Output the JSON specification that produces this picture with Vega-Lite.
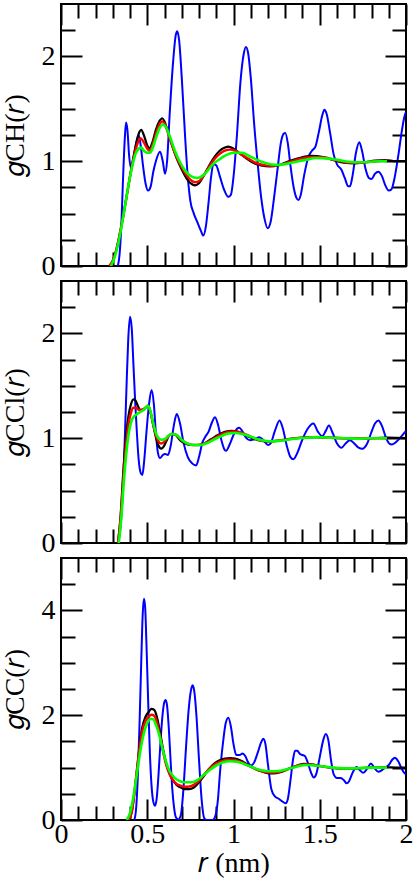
{
"$schema": "https://vega.github.io/schema/vega-lite/v6.json",
"background": "white",
"padding": {"left": 0, "top": 2, "right": 0, "bottom": 0},
"spacing": -5,
"datasets": {
"d": [
{"p":"CH","s":"m4","r":0.33,"g":0},{"p":"CH","s":"m4","r":0.34,"g":0.12},{"p":"CH","s":"m4","r":0.35,"g":0.4},{"p":"CH","s":"m4","r":0.36,"g":0.85},{"p":"CH","s":"m4","r":0.37,"g":1.22},{"p":"CH","s":"m4","r":0.377,"g":1.37},{"p":"CH","s":"m4","r":0.385,"g":1.3},{"p":"CH","s":"m4","r":0.395,"g":1.05},{"p":"CH","s":"m4","r":0.404,"g":0.94},{"p":"CH","s":"m4","r":0.415,"g":0.98},{"p":"CH","s":"m4","r":0.43,"g":1.12},{"p":"CH","s":"m4","r":0.45,"g":1.25},{"p":"CH","s":"m4","r":0.462,"g":1.15},{"p":"CH","s":"m4","r":0.476,"g":0.95},{"p":"CH","s":"m4","r":0.49,"g":0.79},{"p":"CH","s":"m4","r":0.505,"g":0.72},{"p":"CH","s":"m4","r":0.52,"g":0.76},{"p":"CH","s":"m4","r":0.535,"g":0.9},{"p":"CH","s":"m4","r":0.55,"g":1.0},{"p":"CH","s":"m4","r":0.574,"g":1.09},{"p":"CH","s":"m4","r":0.59,"g":1.0},{"p":"CH","s":"m4","r":0.603,"g":0.88},{"p":"CH","s":"m4","r":0.615,"g":1.0},{"p":"CH","s":"m4","r":0.63,"g":1.45},{"p":"CH","s":"m4","r":0.65,"g":1.95},{"p":"CH","s":"m4","r":0.665,"g":2.2},{"p":"CH","s":"m4","r":0.674,"g":2.24},{"p":"CH","s":"m4","r":0.685,"g":2.15},{"p":"CH","s":"m4","r":0.7,"g":1.8},{"p":"CH","s":"m4","r":0.72,"g":1.22},{"p":"CH","s":"m4","r":0.735,"g":0.85},{"p":"CH","s":"m4","r":0.75,"g":0.62},{"p":"CH","s":"m4","r":0.77,"g":0.5},{"p":"CH","s":"m4","r":0.79,"g":0.42},{"p":"CH","s":"m4","r":0.81,"g":0.34},{"p":"CH","s":"m4","r":0.825,"g":0.29},{"p":"CH","s":"m4","r":0.84,"g":0.38},{"p":"CH","s":"m4","r":0.855,"g":0.6},{"p":"CH","s":"m4","r":0.87,"g":0.85},{"p":"CH","s":"m4","r":0.883,"g":0.97},{"p":"CH","s":"m4","r":0.9,"g":0.96},{"p":"CH","s":"m4","r":0.92,"g":0.86},{"p":"CH","s":"m4","r":0.945,"g":0.73},{"p":"CH","s":"m4","r":0.97,"g":0.66},{"p":"CH","s":"m4","r":0.985,"g":0.68},{"p":"CH","s":"m4","r":1.0,"g":0.85},{"p":"CH","s":"m4","r":1.02,"g":1.25},{"p":"CH","s":"m4","r":1.04,"g":1.75},{"p":"CH","s":"m4","r":1.06,"g":2.03},{"p":"CH","s":"m4","r":1.072,"g":2.09},{"p":"CH","s":"m4","r":1.085,"g":2.03},{"p":"CH","s":"m4","r":1.1,"g":1.8},{"p":"CH","s":"m4","r":1.12,"g":1.35},{"p":"CH","s":"m4","r":1.14,"g":0.98},{"p":"CH","s":"m4","r":1.16,"g":0.66},{"p":"CH","s":"m4","r":1.18,"g":0.45},{"p":"CH","s":"m4","r":1.198,"g":0.36},{"p":"CH","s":"m4","r":1.215,"g":0.42},{"p":"CH","s":"m4","r":1.235,"g":0.65},{"p":"CH","s":"m4","r":1.255,"g":0.92},{"p":"CH","s":"m4","r":1.275,"g":1.18},{"p":"CH","s":"m4","r":1.29,"g":1.26},{"p":"CH","s":"m4","r":1.3,"g":1.27},{"p":"CH","s":"m4","r":1.315,"g":1.17},{"p":"CH","s":"m4","r":1.33,"g":0.96},{"p":"CH","s":"m4","r":1.35,"g":0.74},{"p":"CH","s":"m4","r":1.365,"g":0.65},{"p":"CH","s":"m4","r":1.376,"g":0.63},{"p":"CH","s":"m4","r":1.39,"g":0.68},{"p":"CH","s":"m4","r":1.41,"g":0.87},{"p":"CH","s":"m4","r":1.434,"g":1.04},{"p":"CH","s":"m4","r":1.455,"g":1.1},{"p":"CH","s":"m4","r":1.475,"g":1.14},{"p":"CH","s":"m4","r":1.495,"g":1.28},{"p":"CH","s":"m4","r":1.515,"g":1.44},{"p":"CH","s":"m4","r":1.527,"g":1.49},{"p":"CH","s":"m4","r":1.54,"g":1.45},{"p":"CH","s":"m4","r":1.56,"g":1.27},{"p":"CH","s":"m4","r":1.58,"g":1.07},{"p":"CH","s":"m4","r":1.6,"g":0.97},{"p":"CH","s":"m4","r":1.625,"g":0.92},{"p":"CH","s":"m4","r":1.645,"g":0.84},{"p":"CH","s":"m4","r":1.665,"g":0.76},{"p":"CH","s":"m4","r":1.675,"g":0.76},{"p":"CH","s":"m4","r":1.69,"g":0.86},{"p":"CH","s":"m4","r":1.71,"g":1.08},{"p":"CH","s":"m4","r":1.729,"g":1.18},{"p":"CH","s":"m4","r":1.745,"g":1.1},{"p":"CH","s":"m4","r":1.765,"g":0.93},{"p":"CH","s":"m4","r":1.785,"g":0.84},{"p":"CH","s":"m4","r":1.8,"g":0.83},{"p":"CH","s":"m4","r":1.82,"g":0.88},{"p":"CH","s":"m4","r":1.84,"g":0.9},{"p":"CH","s":"m4","r":1.86,"g":0.86},{"p":"CH","s":"m4","r":1.88,"g":0.77},{"p":"CH","s":"m4","r":1.9,"g":0.72},{"p":"CH","s":"m4","r":1.915,"g":0.73},{"p":"CH","s":"m4","r":1.935,"g":0.85},{"p":"CH","s":"m4","r":1.955,"g":1.05},{"p":"CH","s":"m4","r":1.975,"g":1.28},{"p":"CH","s":"m4","r":1.99,"g":1.42},{"p":"CH","s":"m4","r":2.0,"g":1.47},
{"p":"CH","s":"m1","r":0.28,"g":0},{"p":"CH","s":"m1","r":0.3,"g":0.05},{"p":"CH","s":"m1","r":0.32,"g":0.15},{"p":"CH","s":"m1","r":0.34,"g":0.3},{"p":"CH","s":"m1","r":0.36,"g":0.47},{"p":"CH","s":"m1","r":0.38,"g":0.66},{"p":"CH","s":"m1","r":0.4,"g":0.86},{"p":"CH","s":"m1","r":0.42,"g":1.04},{"p":"CH","s":"m1","r":0.44,"g":1.2},{"p":"CH","s":"m1","r":0.455,"g":1.28},{"p":"CH","s":"m1","r":0.465,"g":1.3},{"p":"CH","s":"m1","r":0.48,"g":1.25},{"p":"CH","s":"m1","r":0.5,"g":1.15},{"p":"CH","s":"m1","r":0.512,"g":1.12},{"p":"CH","s":"m1","r":0.53,"g":1.18},{"p":"CH","s":"m1","r":0.55,"g":1.3},{"p":"CH","s":"m1","r":0.57,"g":1.38},{"p":"CH","s":"m1","r":0.587,"g":1.41},{"p":"CH","s":"m1","r":0.6,"g":1.38},{"p":"CH","s":"m1","r":0.62,"g":1.28},{"p":"CH","s":"m1","r":0.64,"g":1.17},{"p":"CH","s":"m1","r":0.67,"g":1.03},{"p":"CH","s":"m1","r":0.7,"g":0.92},{"p":"CH","s":"m1","r":0.73,"g":0.83},{"p":"CH","s":"m1","r":0.76,"g":0.78},{"p":"CH","s":"m1","r":0.777,"g":0.77},{"p":"CH","s":"m1","r":0.8,"g":0.79},{"p":"CH","s":"m1","r":0.83,"g":0.87},{"p":"CH","s":"m1","r":0.86,"g":0.96},{"p":"CH","s":"m1","r":0.89,"g":1.04},{"p":"CH","s":"m1","r":0.92,"g":1.1},{"p":"CH","s":"m1","r":0.95,"g":1.13},{"p":"CH","s":"m1","r":0.97,"g":1.14},{"p":"CH","s":"m1","r":1.0,"g":1.12},{"p":"CH","s":"m1","r":1.04,"g":1.07},{"p":"CH","s":"m1","r":1.08,"g":1.02},{"p":"CH","s":"m1","r":1.12,"g":0.98},{"p":"CH","s":"m1","r":1.16,"g":0.96},{"p":"CH","s":"m1","r":1.21,"g":0.95},{"p":"CH","s":"m1","r":1.26,"g":0.96},{"p":"CH","s":"m1","r":1.32,"g":1.0},{"p":"CH","s":"m1","r":1.38,"g":1.03},{"p":"CH","s":"m1","r":1.45,"g":1.05},{"p":"CH","s":"m1","r":1.52,"g":1.04},{"p":"CH","s":"m1","r":1.58,"g":1.01},{"p":"CH","s":"m1","r":1.64,"g":0.985},{"p":"CH","s":"m1","r":1.7,"g":0.98},{"p":"CH","s":"m1","r":1.76,"g":0.99},{"p":"CH","s":"m1","r":1.82,"g":1.005},{"p":"CH","s":"m1","r":1.88,"g":1.01},{"p":"CH","s":"m1","r":1.94,"g":1.0},{"p":"CH","s":"m1","r":2.0,"g":1.0},
{"p":"CH","s":"m2","r":0.28,"g":0},{"p":"CH","s":"m2","r":0.3,"g":0.05},{"p":"CH","s":"m2","r":0.32,"g":0.15},{"p":"CH","s":"m2","r":0.34,"g":0.3},{"p":"CH","s":"m2","r":0.36,"g":0.47},{"p":"CH","s":"m2","r":0.38,"g":0.66},{"p":"CH","s":"m2","r":0.4,"g":0.85},{"p":"CH","s":"m2","r":0.42,"g":1.02},{"p":"CH","s":"m2","r":0.44,"g":1.15},{"p":"CH","s":"m2","r":0.46,"g":1.22},{"p":"CH","s":"m2","r":0.48,"g":1.18},{"p":"CH","s":"m2","r":0.5,"g":1.12},{"p":"CH","s":"m2","r":0.515,"g":1.1},{"p":"CH","s":"m2","r":0.53,"g":1.15},{"p":"CH","s":"m2","r":0.55,"g":1.26},{"p":"CH","s":"m2","r":0.57,"g":1.35},{"p":"CH","s":"m2","r":0.587,"g":1.38},{"p":"CH","s":"m2","r":0.6,"g":1.36},{"p":"CH","s":"m2","r":0.62,"g":1.27},{"p":"CH","s":"m2","r":0.64,"g":1.17},{"p":"CH","s":"m2","r":0.67,"g":1.04},{"p":"CH","s":"m2","r":0.7,"g":0.94},{"p":"CH","s":"m2","r":0.73,"g":0.86},{"p":"CH","s":"m2","r":0.76,"g":0.81},{"p":"CH","s":"m2","r":0.78,"g":0.8},{"p":"CH","s":"m2","r":0.8,"g":0.81},{"p":"CH","s":"m2","r":0.83,"g":0.87},{"p":"CH","s":"m2","r":0.86,"g":0.95},{"p":"CH","s":"m2","r":0.89,"g":1.02},{"p":"CH","s":"m2","r":0.92,"g":1.07},{"p":"CH","s":"m2","r":0.95,"g":1.1},{"p":"CH","s":"m2","r":0.98,"g":1.11},{"p":"CH","s":"m2","r":1.01,"g":1.1},{"p":"CH","s":"m2","r":1.05,"g":1.06},{"p":"CH","s":"m2","r":1.09,"g":1.02},{"p":"CH","s":"m2","r":1.13,"g":0.985},{"p":"CH","s":"m2","r":1.17,"g":0.965},{"p":"CH","s":"m2","r":1.22,"g":0.955},{"p":"CH","s":"m2","r":1.27,"g":0.965},{"p":"CH","s":"m2","r":1.33,"g":0.995},{"p":"CH","s":"m2","r":1.39,"g":1.025},{"p":"CH","s":"m2","r":1.46,"g":1.04},{"p":"CH","s":"m2","r":1.53,"g":1.035},{"p":"CH","s":"m2","r":1.59,"g":1.01},{"p":"CH","s":"m2","r":1.65,"g":0.99},{"p":"CH","s":"m2","r":1.71,"g":0.985},{"p":"CH","s":"m2","r":1.77,"g":0.99},{"p":"CH","s":"m2","r":1.83,"g":1.0},{"p":"CH","s":"m2","r":1.89,"g":1.005},
{"p":"CH","s":"m3","r":0.29,"g":0},{"p":"CH","s":"m3","r":0.31,"g":0.08},{"p":"CH","s":"m3","r":0.33,"g":0.2},{"p":"CH","s":"m3","r":0.35,"g":0.37},{"p":"CH","s":"m3","r":0.37,"g":0.56},{"p":"CH","s":"m3","r":0.39,"g":0.76},{"p":"CH","s":"m3","r":0.41,"g":0.93},{"p":"CH","s":"m3","r":0.43,"g":1.06},{"p":"CH","s":"m3","r":0.45,"g":1.12},{"p":"CH","s":"m3","r":0.465,"g":1.13},{"p":"CH","s":"m3","r":0.48,"g":1.1},{"p":"CH","s":"m3","r":0.5,"g":1.08},{"p":"CH","s":"m3","r":0.515,"g":1.08},{"p":"CH","s":"m3","r":0.53,"g":1.12},{"p":"CH","s":"m3","r":0.55,"g":1.22},{"p":"CH","s":"m3","r":0.57,"g":1.31},{"p":"CH","s":"m3","r":0.59,"g":1.35},{"p":"CH","s":"m3","r":0.61,"g":1.32},{"p":"CH","s":"m3","r":0.63,"g":1.24},{"p":"CH","s":"m3","r":0.66,"g":1.1},{"p":"CH","s":"m3","r":0.69,"g":0.99},{"p":"CH","s":"m3","r":0.72,"g":0.91},{"p":"CH","s":"m3","r":0.75,"g":0.86},{"p":"CH","s":"m3","r":0.79,"g":0.84},{"p":"CH","s":"m3","r":0.82,"g":0.86},{"p":"CH","s":"m3","r":0.85,"g":0.91},{"p":"CH","s":"m3","r":0.88,"g":0.97},{"p":"CH","s":"m3","r":0.92,"g":1.02},{"p":"CH","s":"m3","r":0.96,"g":1.06},{"p":"CH","s":"m3","r":1.0,"g":1.08},{"p":"CH","s":"m3","r":1.05,"g":1.08},{"p":"CH","s":"m3","r":1.09,"g":1.05},{"p":"CH","s":"m3","r":1.14,"g":1.01},{"p":"CH","s":"m3","r":1.19,"g":0.98},{"p":"CH","s":"m3","r":1.24,"g":0.965},{"p":"CH","s":"m3","r":1.29,"g":0.97},{"p":"CH","s":"m3","r":1.35,"g":0.99},{"p":"CH","s":"m3","r":1.41,"g":1.01},{"p":"CH","s":"m3","r":1.48,"g":1.03},{"p":"CH","s":"m3","r":1.55,"g":1.025},{"p":"CH","s":"m3","r":1.61,"g":1.01},{"p":"CH","s":"m3","r":1.67,"g":0.995},{"p":"CH","s":"m3","r":1.73,"g":0.99},{"p":"CH","s":"m3","r":1.79,"g":0.995},{"p":"CH","s":"m3","r":1.85,"g":1.0},{"p":"CH","s":"m3","r":1.89,"g":1.0},
{"p":"CCl","s":"m4","r":0.332,"g":0},{"p":"CCl","s":"m4","r":0.345,"g":0.15},{"p":"CCl","s":"m4","r":0.36,"g":0.55},{"p":"CCl","s":"m4","r":0.372,"g":1.1},{"p":"CCl","s":"m4","r":0.382,"g":1.6},{"p":"CCl","s":"m4","r":0.39,"g":1.95},{"p":"CCl","s":"m4","r":0.4,"g":2.16},{"p":"CCl","s":"m4","r":0.41,"g":2.05},{"p":"CCl","s":"m4","r":0.42,"g":1.7},{"p":"CCl","s":"m4","r":0.43,"g":1.35},{"p":"CCl","s":"m4","r":0.44,"g":1.05},{"p":"CCl","s":"m4","r":0.45,"g":0.8},{"p":"CCl","s":"m4","r":0.462,"g":0.67},{"p":"CCl","s":"m4","r":0.472,"g":0.65},{"p":"CCl","s":"m4","r":0.482,"g":0.78},{"p":"CCl","s":"m4","r":0.495,"g":1.05},{"p":"CCl","s":"m4","r":0.51,"g":1.32},{"p":"CCl","s":"m4","r":0.525,"g":1.46},{"p":"CCl","s":"m4","r":0.538,"g":1.33},{"p":"CCl","s":"m4","r":0.55,"g":1.05},{"p":"CCl","s":"m4","r":0.562,"g":0.86},{"p":"CCl","s":"m4","r":0.574,"g":0.81},{"p":"CCl","s":"m4","r":0.59,"g":0.84},{"p":"CCl","s":"m4","r":0.603,"g":0.85},{"p":"CCl","s":"m4","r":0.62,"g":0.84},{"p":"CCl","s":"m4","r":0.635,"g":0.92},{"p":"CCl","s":"m4","r":0.655,"g":1.13},{"p":"CCl","s":"m4","r":0.671,"g":1.23},{"p":"CCl","s":"m4","r":0.69,"g":1.14},{"p":"CCl","s":"m4","r":0.71,"g":0.96},{"p":"CCl","s":"m4","r":0.735,"g":0.82},{"p":"CCl","s":"m4","r":0.76,"g":0.76},{"p":"CCl","s":"m4","r":0.783,"g":0.74},{"p":"CCl","s":"m4","r":0.8,"g":0.82},{"p":"CCl","s":"m4","r":0.82,"g":0.96},{"p":"CCl","s":"m4","r":0.835,"g":1.01},{"p":"CCl","s":"m4","r":0.855,"g":1.06},{"p":"CCl","s":"m4","r":0.875,"g":1.15},{"p":"CCl","s":"m4","r":0.893,"g":1.2},{"p":"CCl","s":"m4","r":0.91,"g":1.13},{"p":"CCl","s":"m4","r":0.93,"g":0.98},{"p":"CCl","s":"m4","r":0.945,"g":0.9},{"p":"CCl","s":"m4","r":0.957,"g":0.88},{"p":"CCl","s":"m4","r":0.975,"g":0.93},{"p":"CCl","s":"m4","r":1.0,"g":1.03},{"p":"CCl","s":"m4","r":1.02,"g":1.09},{"p":"CCl","s":"m4","r":1.034,"g":1.1},{"p":"CCl","s":"m4","r":1.05,"g":1.07},{"p":"CCl","s":"m4","r":1.07,"g":1.01},{"p":"CCl","s":"m4","r":1.096,"g":0.98},{"p":"CCl","s":"m4","r":1.12,"g":0.99},{"p":"CCl","s":"m4","r":1.15,"g":1.01},{"p":"CCl","s":"m4","r":1.175,"g":0.98},{"p":"CCl","s":"m4","r":1.2,"g":0.935},{"p":"CCl","s":"m4","r":1.215,"g":0.95},{"p":"CCl","s":"m4","r":1.24,"g":1.07},{"p":"CCl","s":"m4","r":1.267,"g":1.17},{"p":"CCl","s":"m4","r":1.285,"g":1.1},{"p":"CCl","s":"m4","r":1.31,"g":0.92},{"p":"CCl","s":"m4","r":1.33,"g":0.82},{"p":"CCl","s":"m4","r":1.347,"g":0.8},{"p":"CCl","s":"m4","r":1.37,"g":0.86},{"p":"CCl","s":"m4","r":1.4,"g":0.99},{"p":"CCl","s":"m4","r":1.43,"g":1.09},{"p":"CCl","s":"m4","r":1.463,"g":1.14},{"p":"CCl","s":"m4","r":1.49,"g":1.06},{"p":"CCl","s":"m4","r":1.515,"g":1.02},{"p":"CCl","s":"m4","r":1.535,"g":1.07},{"p":"CCl","s":"m4","r":1.553,"g":1.12},{"p":"CCl","s":"m4","r":1.575,"g":1.05},{"p":"CCl","s":"m4","r":1.6,"g":0.95},{"p":"CCl","s":"m4","r":1.627,"g":0.91},{"p":"CCl","s":"m4","r":1.65,"g":0.95},{"p":"CCl","s":"m4","r":1.675,"g":0.98},{"p":"CCl","s":"m4","r":1.7,"g":0.95},{"p":"CCl","s":"m4","r":1.725,"g":0.91},{"p":"CCl","s":"m4","r":1.747,"g":0.9},{"p":"CCl","s":"m4","r":1.775,"g":0.95},{"p":"CCl","s":"m4","r":1.8,"g":1.06},{"p":"CCl","s":"m4","r":1.82,"g":1.14},{"p":"CCl","s":"m4","r":1.84,"g":1.17},{"p":"CCl","s":"m4","r":1.86,"g":1.12},{"p":"CCl","s":"m4","r":1.885,"g":1.0},{"p":"CCl","s":"m4","r":1.905,"g":0.945},{"p":"CCl","s":"m4","r":1.917,"g":0.94},{"p":"CCl","s":"m4","r":1.94,"g":0.96},{"p":"CCl","s":"m4","r":1.965,"g":1.0},{"p":"CCl","s":"m4","r":1.99,"g":1.05},{"p":"CCl","s":"m4","r":2.0,"g":1.07},
{"p":"CCl","s":"m1","r":0.33,"g":0},{"p":"CCl","s":"m1","r":0.345,"g":0.25},{"p":"CCl","s":"m1","r":0.36,"g":0.65},{"p":"CCl","s":"m1","r":0.375,"g":0.98},{"p":"CCl","s":"m1","r":0.39,"g":1.2},{"p":"CCl","s":"m1","r":0.405,"g":1.32},{"p":"CCl","s":"m1","r":0.42,"g":1.37},{"p":"CCl","s":"m1","r":0.432,"g":1.36},{"p":"CCl","s":"m1","r":0.445,"g":1.31},{"p":"CCl","s":"m1","r":0.46,"g":1.27},{"p":"CCl","s":"m1","r":0.475,"g":1.27},{"p":"CCl","s":"m1","r":0.49,"g":1.29},{"p":"CCl","s":"m1","r":0.505,"g":1.31},{"p":"CCl","s":"m1","r":0.52,"g":1.24},{"p":"CCl","s":"m1","r":0.535,"g":1.12},{"p":"CCl","s":"m1","r":0.55,"g":1.01},{"p":"CCl","s":"m1","r":0.565,"g":0.93},{"p":"CCl","s":"m1","r":0.58,"g":0.9},{"p":"CCl","s":"m1","r":0.595,"g":0.92},{"p":"CCl","s":"m1","r":0.61,"g":0.97},{"p":"CCl","s":"m1","r":0.625,"g":1.02},{"p":"CCl","s":"m1","r":0.645,"g":1.04},{"p":"CCl","s":"m1","r":0.665,"g":1.03},{"p":"CCl","s":"m1","r":0.69,"g":0.98},{"p":"CCl","s":"m1","r":0.72,"g":0.95},{"p":"CCl","s":"m1","r":0.75,"g":0.935},{"p":"CCl","s":"m1","r":0.79,"g":0.935},{"p":"CCl","s":"m1","r":0.83,"g":0.95},{"p":"CCl","s":"m1","r":0.87,"g":0.99},{"p":"CCl","s":"m1","r":0.91,"g":1.03},{"p":"CCl","s":"m1","r":0.95,"g":1.06},{"p":"CCl","s":"m1","r":0.99,"g":1.07},{"p":"CCl","s":"m1","r":1.03,"g":1.06},{"p":"CCl","s":"m1","r":1.07,"g":1.03},{"p":"CCl","s":"m1","r":1.11,"g":1.0},{"p":"CCl","s":"m1","r":1.16,"g":0.975},{"p":"CCl","s":"m1","r":1.21,"g":0.97},{"p":"CCl","s":"m1","r":1.27,"g":0.98},{"p":"CCl","s":"m1","r":1.33,"g":0.995},{"p":"CCl","s":"m1","r":1.4,"g":1.005},{"p":"CCl","s":"m1","r":1.47,"g":1.01},{"p":"CCl","s":"m1","r":1.55,"g":1.005},{"p":"CCl","s":"m1","r":1.63,"g":1.0},{"p":"CCl","s":"m1","r":1.72,"g":0.995},{"p":"CCl","s":"m1","r":1.8,"g":1.0},{"p":"CCl","s":"m1","r":1.9,"g":1.005},{"p":"CCl","s":"m1","r":2.0,"g":1.0},
{"p":"CCl","s":"m2","r":0.33,"g":0},{"p":"CCl","s":"m2","r":0.345,"g":0.22},{"p":"CCl","s":"m2","r":0.36,"g":0.58},{"p":"CCl","s":"m2","r":0.375,"g":0.9},{"p":"CCl","s":"m2","r":0.39,"g":1.12},{"p":"CCl","s":"m2","r":0.405,"g":1.24},{"p":"CCl","s":"m2","r":0.42,"g":1.29},{"p":"CCl","s":"m2","r":0.435,"g":1.29},{"p":"CCl","s":"m2","r":0.45,"g":1.27},{"p":"CCl","s":"m2","r":0.465,"g":1.27},{"p":"CCl","s":"m2","r":0.48,"g":1.28},{"p":"CCl","s":"m2","r":0.495,"g":1.3},{"p":"CCl","s":"m2","r":0.505,"g":1.31},{"p":"CCl","s":"m2","r":0.52,"g":1.24},{"p":"CCl","s":"m2","r":0.535,"g":1.13},{"p":"CCl","s":"m2","r":0.55,"g":1.03},{"p":"CCl","s":"m2","r":0.565,"g":0.97},{"p":"CCl","s":"m2","r":0.58,"g":0.95},{"p":"CCl","s":"m2","r":0.595,"g":0.96},{"p":"CCl","s":"m2","r":0.61,"g":0.99},{"p":"CCl","s":"m2","r":0.63,"g":1.03},{"p":"CCl","s":"m2","r":0.65,"g":1.04},{"p":"CCl","s":"m2","r":0.67,"g":1.03},{"p":"CCl","s":"m2","r":0.7,"g":0.98},{"p":"CCl","s":"m2","r":0.73,"g":0.95},{"p":"CCl","s":"m2","r":0.76,"g":0.935},{"p":"CCl","s":"m2","r":0.8,"g":0.935},{"p":"CCl","s":"m2","r":0.84,"g":0.955},{"p":"CCl","s":"m2","r":0.88,"g":0.99},{"p":"CCl","s":"m2","r":0.92,"g":1.03},{"p":"CCl","s":"m2","r":0.96,"g":1.055},{"p":"CCl","s":"m2","r":1.0,"g":1.065},{"p":"CCl","s":"m2","r":1.04,"g":1.055},{"p":"CCl","s":"m2","r":1.08,"g":1.03},{"p":"CCl","s":"m2","r":1.12,"g":1.0},{"p":"CCl","s":"m2","r":1.17,"g":0.975},{"p":"CCl","s":"m2","r":1.22,"g":0.97},{"p":"CCl","s":"m2","r":1.28,"g":0.98},{"p":"CCl","s":"m2","r":1.34,"g":0.995},{"p":"CCl","s":"m2","r":1.41,"g":1.005},{"p":"CCl","s":"m2","r":1.48,"g":1.01},{"p":"CCl","s":"m2","r":1.56,"g":1.005},{"p":"CCl","s":"m2","r":1.64,"g":1.0},{"p":"CCl","s":"m2","r":1.72,"g":0.995},{"p":"CCl","s":"m2","r":1.8,"g":1.0},{"p":"CCl","s":"m2","r":1.89,"g":1.0},
{"p":"CCl","s":"m3","r":0.335,"g":0},{"p":"CCl","s":"m3","r":0.35,"g":0.25},{"p":"CCl","s":"m3","r":0.365,"g":0.6},{"p":"CCl","s":"m3","r":0.38,"g":0.88},{"p":"CCl","s":"m3","r":0.395,"g":1.07},{"p":"CCl","s":"m3","r":0.41,"g":1.17},{"p":"CCl","s":"m3","r":0.425,"g":1.21},{"p":"CCl","s":"m3","r":0.44,"g":1.23},{"p":"CCl","s":"m3","r":0.46,"g":1.25},{"p":"CCl","s":"m3","r":0.48,"g":1.27},{"p":"CCl","s":"m3","r":0.495,"g":1.3},{"p":"CCl","s":"m3","r":0.505,"g":1.31},{"p":"CCl","s":"m3","r":0.52,"g":1.25},{"p":"CCl","s":"m3","r":0.535,"g":1.14},{"p":"CCl","s":"m3","r":0.55,"g":1.05},{"p":"CCl","s":"m3","r":0.565,"g":1.0},{"p":"CCl","s":"m3","r":0.58,"g":0.985},{"p":"CCl","s":"m3","r":0.6,"g":0.99},{"p":"CCl","s":"m3","r":0.62,"g":1.02},{"p":"CCl","s":"m3","r":0.645,"g":1.04},{"p":"CCl","s":"m3","r":0.67,"g":1.03},{"p":"CCl","s":"m3","r":0.7,"g":0.985},{"p":"CCl","s":"m3","r":0.73,"g":0.95},{"p":"CCl","s":"m3","r":0.77,"g":0.935},{"p":"CCl","s":"m3","r":0.81,"g":0.935},{"p":"CCl","s":"m3","r":0.85,"g":0.955},{"p":"CCl","s":"m3","r":0.89,"g":0.99},{"p":"CCl","s":"m3","r":0.93,"g":1.02},{"p":"CCl","s":"m3","r":0.97,"g":1.045},{"p":"CCl","s":"m3","r":1.01,"g":1.05},{"p":"CCl","s":"m3","r":1.05,"g":1.04},{"p":"CCl","s":"m3","r":1.09,"g":1.02},{"p":"CCl","s":"m3","r":1.13,"g":0.995},{"p":"CCl","s":"m3","r":1.18,"g":0.975},{"p":"CCl","s":"m3","r":1.23,"g":0.97},{"p":"CCl","s":"m3","r":1.29,"g":0.98},{"p":"CCl","s":"m3","r":1.35,"g":0.995},{"p":"CCl","s":"m3","r":1.42,"g":1.005},{"p":"CCl","s":"m3","r":1.49,"g":1.01},{"p":"CCl","s":"m3","r":1.56,"g":1.005},{"p":"CCl","s":"m3","r":1.64,"g":1.0},{"p":"CCl","s":"m3","r":1.72,"g":0.995},{"p":"CCl","s":"m3","r":1.8,"g":1.0},{"p":"CCl","s":"m3","r":1.89,"g":1.0},
{"p":"CC","s":"m4","r":0.425,"g":0},{"p":"CC","s":"m4","r":0.435,"g":0.2},{"p":"CC","s":"m4","r":0.445,"g":0.8},{"p":"CC","s":"m4","r":0.455,"g":1.8},{"p":"CC","s":"m4","r":0.465,"g":3.0},{"p":"CC","s":"m4","r":0.474,"g":3.95},{"p":"CC","s":"m4","r":0.481,"g":4.22},{"p":"CC","s":"m4","r":0.488,"g":4.05},{"p":"CC","s":"m4","r":0.495,"g":3.4},{"p":"CC","s":"m4","r":0.505,"g":2.3},{"p":"CC","s":"m4","r":0.515,"g":1.3},{"p":"CC","s":"m4","r":0.525,"g":0.65},{"p":"CC","s":"m4","r":0.535,"g":0.35},{"p":"CC","s":"m4","r":0.545,"g":0.27},{"p":"CC","s":"m4","r":0.555,"g":0.42},{"p":"CC","s":"m4","r":0.565,"g":0.85},{"p":"CC","s":"m4","r":0.578,"g":1.55},{"p":"CC","s":"m4","r":0.59,"g":2.05},{"p":"CC","s":"m4","r":0.6,"g":2.26},{"p":"CC","s":"m4","r":0.607,"g":2.29},{"p":"CC","s":"m4","r":0.615,"g":2.18},{"p":"CC","s":"m4","r":0.625,"g":1.75},{"p":"CC","s":"m4","r":0.635,"g":1.15},{"p":"CC","s":"m4","r":0.645,"g":0.6},{"p":"CC","s":"m4","r":0.655,"g":0.25},{"p":"CC","s":"m4","r":0.665,"g":0.06},{"p":"CC","s":"m4","r":0.68,"g":0.01},{"p":"CC","s":"m4","r":0.695,"g":0.1},{"p":"CC","s":"m4","r":0.71,"g":0.6},{"p":"CC","s":"m4","r":0.725,"g":1.4},{"p":"CC","s":"m4","r":0.74,"g":2.1},{"p":"CC","s":"m4","r":0.752,"g":2.45},{"p":"CC","s":"m4","r":0.763,"g":2.57},{"p":"CC","s":"m4","r":0.773,"g":2.45},{"p":"CC","s":"m4","r":0.785,"g":2.0},{"p":"CC","s":"m4","r":0.8,"g":1.15},{"p":"CC","s":"m4","r":0.815,"g":0.4},{"p":"CC","s":"m4","r":0.83,"g":0.04},{"p":"CC","s":"m4","r":0.845,"g":0},{"p":"CC","s":"m4","r":0.88,"g":0},{"p":"CC","s":"m4","r":0.895,"g":0.08},{"p":"CC","s":"m4","r":0.91,"g":0.4},{"p":"CC","s":"m4","r":0.922,"g":0.92},{"p":"CC","s":"m4","r":0.94,"g":1.5},{"p":"CC","s":"m4","r":0.955,"g":1.85},{"p":"CC","s":"m4","r":0.97,"g":1.95},{"p":"CC","s":"m4","r":0.985,"g":1.78},{"p":"CC","s":"m4","r":1.0,"g":1.45},{"p":"CC","s":"m4","r":1.016,"g":1.24},{"p":"CC","s":"m4","r":1.035,"g":1.24},{"p":"CC","s":"m4","r":1.053,"g":1.27},{"p":"CC","s":"m4","r":1.068,"g":1.22},{"p":"CC","s":"m4","r":1.085,"g":1.1},{"p":"CC","s":"m4","r":1.1,"g":1.04},{"p":"CC","s":"m4","r":1.12,"g":1.1},{"p":"CC","s":"m4","r":1.14,"g":1.28},{"p":"CC","s":"m4","r":1.16,"g":1.48},{"p":"CC","s":"m4","r":1.173,"g":1.55},{"p":"CC","s":"m4","r":1.185,"g":1.45},{"p":"CC","s":"m4","r":1.2,"g":1.05},{"p":"CC","s":"m4","r":1.22,"g":0.58},{"p":"CC","s":"m4","r":1.24,"g":0.45},{"p":"CC","s":"m4","r":1.26,"g":0.41},{"p":"CC","s":"m4","r":1.28,"g":0.36},{"p":"CC","s":"m4","r":1.303,"g":0.32},{"p":"CC","s":"m4","r":1.315,"g":0.4},{"p":"CC","s":"m4","r":1.33,"g":0.75},{"p":"CC","s":"m4","r":1.345,"g":1.15},{"p":"CC","s":"m4","r":1.357,"g":1.32},{"p":"CC","s":"m4","r":1.37,"g":1.32},{"p":"CC","s":"m4","r":1.385,"g":1.26},{"p":"CC","s":"m4","r":1.4,"g":1.24},{"p":"CC","s":"m4","r":1.414,"g":1.22},{"p":"CC","s":"m4","r":1.43,"g":1.1},{"p":"CC","s":"m4","r":1.45,"g":0.9},{"p":"CC","s":"m4","r":1.465,"g":0.81},{"p":"CC","s":"m4","r":1.48,"g":0.88},{"p":"CC","s":"m4","r":1.5,"g":1.2},{"p":"CC","s":"m4","r":1.52,"g":1.52},{"p":"CC","s":"m4","r":1.535,"g":1.64},{"p":"CC","s":"m4","r":1.55,"g":1.52},{"p":"CC","s":"m4","r":1.565,"g":1.15},{"p":"CC","s":"m4","r":1.58,"g":0.88},{"p":"CC","s":"m4","r":1.6,"g":0.8},{"p":"CC","s":"m4","r":1.62,"g":0.8},{"p":"CC","s":"m4","r":1.64,"g":0.76},{"p":"CC","s":"m4","r":1.656,"g":0.7},{"p":"CC","s":"m4","r":1.67,"g":0.74},{"p":"CC","s":"m4","r":1.69,"g":0.9},{"p":"CC","s":"m4","r":1.714,"g":1.01},{"p":"CC","s":"m4","r":1.73,"g":0.96},{"p":"CC","s":"m4","r":1.752,"g":0.9},{"p":"CC","s":"m4","r":1.775,"g":0.98},{"p":"CC","s":"m4","r":1.797,"g":1.08},{"p":"CC","s":"m4","r":1.815,"g":1.0},{"p":"CC","s":"m4","r":1.84,"g":0.92},{"p":"CC","s":"m4","r":1.86,"g":0.95},{"p":"CC","s":"m4","r":1.88,"g":1.0},{"p":"CC","s":"m4","r":1.9,"g":1.05},{"p":"CC","s":"m4","r":1.92,"g":1.15},{"p":"CC","s":"m4","r":1.936,"g":1.19},{"p":"CC","s":"m4","r":1.955,"g":1.12},{"p":"CC","s":"m4","r":1.975,"g":0.98},{"p":"CC","s":"m4","r":1.99,"g":0.9},{"p":"CC","s":"m4","r":2.0,"g":0.87},
{"p":"CC","s":"m1","r":0.39,"g":0},{"p":"CC","s":"m1","r":0.41,"g":0.15},{"p":"CC","s":"m1","r":0.425,"g":0.5},{"p":"CC","s":"m1","r":0.44,"g":0.95},{"p":"CC","s":"m1","r":0.455,"g":1.4},{"p":"CC","s":"m1","r":0.47,"g":1.75},{"p":"CC","s":"m1","r":0.49,"g":1.97},{"p":"CC","s":"m1","r":0.51,"g":2.07},{"p":"CC","s":"m1","r":0.525,"g":2.12},{"p":"CC","s":"m1","r":0.54,"g":2.1},{"p":"CC","s":"m1","r":0.555,"g":1.98},{"p":"CC","s":"m1","r":0.57,"g":1.75},{"p":"CC","s":"m1","r":0.59,"g":1.38},{"p":"CC","s":"m1","r":0.61,"g":1.08},{"p":"CC","s":"m1","r":0.63,"g":0.88},{"p":"CC","s":"m1","r":0.65,"g":0.75},{"p":"CC","s":"m1","r":0.67,"g":0.67},{"p":"CC","s":"m1","r":0.7,"g":0.61},{"p":"CC","s":"m1","r":0.72,"g":0.59},{"p":"CC","s":"m1","r":0.744,"g":0.59},{"p":"CC","s":"m1","r":0.77,"g":0.62},{"p":"CC","s":"m1","r":0.8,"g":0.72},{"p":"CC","s":"m1","r":0.83,"g":0.85},{"p":"CC","s":"m1","r":0.86,"g":0.98},{"p":"CC","s":"m1","r":0.89,"g":1.08},{"p":"CC","s":"m1","r":0.92,"g":1.14},{"p":"CC","s":"m1","r":0.95,"g":1.17},{"p":"CC","s":"m1","r":0.98,"g":1.18},{"p":"CC","s":"m1","r":1.01,"g":1.17},{"p":"CC","s":"m1","r":1.05,"g":1.12},{"p":"CC","s":"m1","r":1.09,"g":1.04},{"p":"CC","s":"m1","r":1.13,"g":0.97},{"p":"CC","s":"m1","r":1.17,"g":0.92},{"p":"CC","s":"m1","r":1.21,"g":0.89},{"p":"CC","s":"m1","r":1.25,"g":0.895},{"p":"CC","s":"m1","r":1.29,"g":0.93},{"p":"CC","s":"m1","r":1.33,"g":0.99},{"p":"CC","s":"m1","r":1.37,"g":1.04},{"p":"CC","s":"m1","r":1.41,"g":1.07},{"p":"CC","s":"m1","r":1.45,"g":1.06},{"p":"CC","s":"m1","r":1.49,"g":1.04},{"p":"CC","s":"m1","r":1.54,"g":1.01},{"p":"CC","s":"m1","r":1.6,"g":0.985},{"p":"CC","s":"m1","r":1.66,"g":0.98},{"p":"CC","s":"m1","r":1.72,"g":0.985},{"p":"CC","s":"m1","r":1.8,"g":1.0},{"p":"CC","s":"m1","r":1.88,"g":1.005},{"p":"CC","s":"m1","r":1.94,"g":1.0},{"p":"CC","s":"m1","r":2.0,"g":1.0},
{"p":"CC","s":"m2","r":0.39,"g":0},{"p":"CC","s":"m2","r":0.41,"g":0.15},{"p":"CC","s":"m2","r":0.425,"g":0.5},{"p":"CC","s":"m2","r":0.44,"g":0.94},{"p":"CC","s":"m2","r":0.455,"g":1.36},{"p":"CC","s":"m2","r":0.47,"g":1.68},{"p":"CC","s":"m2","r":0.49,"g":1.89},{"p":"CC","s":"m2","r":0.51,"g":1.98},{"p":"CC","s":"m2","r":0.525,"g":2.01},{"p":"CC","s":"m2","r":0.54,"g":1.99},{"p":"CC","s":"m2","r":0.555,"g":1.88},{"p":"CC","s":"m2","r":0.57,"g":1.67},{"p":"CC","s":"m2","r":0.59,"g":1.33},{"p":"CC","s":"m2","r":0.61,"g":1.05},{"p":"CC","s":"m2","r":0.63,"g":0.87},{"p":"CC","s":"m2","r":0.65,"g":0.76},{"p":"CC","s":"m2","r":0.67,"g":0.69},{"p":"CC","s":"m2","r":0.7,"g":0.65},{"p":"CC","s":"m2","r":0.72,"g":0.635},{"p":"CC","s":"m2","r":0.745,"g":0.64},{"p":"CC","s":"m2","r":0.77,"g":0.67},{"p":"CC","s":"m2","r":0.8,"g":0.75},{"p":"CC","s":"m2","r":0.83,"g":0.87},{"p":"CC","s":"m2","r":0.86,"g":0.98},{"p":"CC","s":"m2","r":0.89,"g":1.06},{"p":"CC","s":"m2","r":0.92,"g":1.11},{"p":"CC","s":"m2","r":0.95,"g":1.14},{"p":"CC","s":"m2","r":0.98,"g":1.15},{"p":"CC","s":"m2","r":1.01,"g":1.14},{"p":"CC","s":"m2","r":1.05,"g":1.1},{"p":"CC","s":"m2","r":1.09,"g":1.03},{"p":"CC","s":"m2","r":1.13,"g":0.97},{"p":"CC","s":"m2","r":1.17,"g":0.925},{"p":"CC","s":"m2","r":1.21,"g":0.905},{"p":"CC","s":"m2","r":1.25,"g":0.91},{"p":"CC","s":"m2","r":1.29,"g":0.945},{"p":"CC","s":"m2","r":1.33,"g":0.99},{"p":"CC","s":"m2","r":1.37,"g":1.035},{"p":"CC","s":"m2","r":1.41,"g":1.06},{"p":"CC","s":"m2","r":1.45,"g":1.055},{"p":"CC","s":"m2","r":1.49,"g":1.035},{"p":"CC","s":"m2","r":1.54,"g":1.01},{"p":"CC","s":"m2","r":1.6,"g":0.99},{"p":"CC","s":"m2","r":1.66,"g":0.985},{"p":"CC","s":"m2","r":1.72,"g":0.99},{"p":"CC","s":"m2","r":1.8,"g":1.0},{"p":"CC","s":"m2","r":1.89,"g":1.0},
{"p":"CC","s":"m3","r":0.38,"g":0},{"p":"CC","s":"m3","r":0.4,"g":0.13},{"p":"CC","s":"m3","r":0.42,"g":0.45},{"p":"CC","s":"m3","r":0.44,"g":0.88},{"p":"CC","s":"m3","r":0.46,"g":1.32},{"p":"CC","s":"m3","r":0.48,"g":1.65},{"p":"CC","s":"m3","r":0.5,"g":1.85},{"p":"CC","s":"m3","r":0.52,"g":1.93},{"p":"CC","s":"m3","r":0.535,"g":1.92},{"p":"CC","s":"m3","r":0.55,"g":1.82},{"p":"CC","s":"m3","r":0.57,"g":1.62},{"p":"CC","s":"m3","r":0.59,"g":1.34},{"p":"CC","s":"m3","r":0.61,"g":1.1},{"p":"CC","s":"m3","r":0.63,"g":0.93},{"p":"CC","s":"m3","r":0.66,"g":0.8},{"p":"CC","s":"m3","r":0.69,"g":0.74},{"p":"CC","s":"m3","r":0.72,"g":0.72},{"p":"CC","s":"m3","r":0.76,"g":0.72},{"p":"CC","s":"m3","r":0.79,"g":0.76},{"p":"CC","s":"m3","r":0.82,"g":0.84},{"p":"CC","s":"m3","r":0.86,"g":0.95},{"p":"CC","s":"m3","r":0.9,"g":1.04},{"p":"CC","s":"m3","r":0.94,"g":1.1},{"p":"CC","s":"m3","r":0.98,"g":1.12},{"p":"CC","s":"m3","r":1.02,"g":1.11},{"p":"CC","s":"m3","r":1.06,"g":1.07},{"p":"CC","s":"m3","r":1.1,"g":1.02},{"p":"CC","s":"m3","r":1.14,"g":0.97},{"p":"CC","s":"m3","r":1.18,"g":0.94},{"p":"CC","s":"m3","r":1.22,"g":0.93},{"p":"CC","s":"m3","r":1.26,"g":0.935},{"p":"CC","s":"m3","r":1.3,"g":0.96},{"p":"CC","s":"m3","r":1.34,"g":0.995},{"p":"CC","s":"m3","r":1.38,"g":1.03},{"p":"CC","s":"m3","r":1.42,"g":1.05},{"p":"CC","s":"m3","r":1.46,"g":1.045},{"p":"CC","s":"m3","r":1.5,"g":1.03},{"p":"CC","s":"m3","r":1.55,"g":1.01},{"p":"CC","s":"m3","r":1.61,"g":0.99},{"p":"CC","s":"m3","r":1.67,"g":0.985},{"p":"CC","s":"m3","r":1.73,"g":0.99},{"p":"CC","s":"m3","r":1.8,"g":1.0},{"p":"CC","s":"m3","r":1.89,"g":1.0}
]
},
"vconcat": [
{
"width": 345, "height": 262,
"data": {"name": "d"},
"transform": [{"filter": "datum.p === 'CH'"}],
"layer": [
{"mark": {"type": "line", "interpolate": "monotone", "clip": true},
 "encoding": {
  "x": {"field": "r", "type": "quantitative", "scale": {"domain": [0, 2], "nice": false},
        "axis": {"orient": "bottom", "values": [0,0.1,0.2,0.3,0.4,0.5,0.6,0.7,0.8,0.9,1,1.1,1.2,1.3,1.4,1.5,1.6,1.7,1.8,1.9,2], "labels": false, "title": null,
                 "tickSize": {"condition": {"test": "abs(datum.value*2 - round(datum.value*2)) < 0.001", "value": -21}, "value": -14}}},
  "y": {"field": "g", "type": "quantitative", "scale": {"domain": [0, 2.5], "nice": false},
        "axis": {"orient": "left", "values": [0,0.25,0.5,0.75,1,1.25,1.5,1.75,2,2.25], "format": "~g", "labelOverlap": false,
                 "labelFont": "Liberation Serif", "labelFontSize": 28, "titleFont": "Liberation Serif", "titleFontSize": 28,
                 "labelExpr": "abs(datum.value - round(datum.value)) < 0.001 ? datum.label : ''",
                 "labelPadding": 27, "title": "𝑔CH(𝑟)", "titlePadding": 12,
                 "tickSize": {"condition": {"test": "abs(datum.value - round(datum.value)) < 0.001", "value": -21}, "value": -14}}},
  "color": {"field": "s", "type": "nominal", "scale": {"domain": ["m4","m1","m2","m3"], "range": ["#0000ff","#000000","#ff0000","#00ff00"]}, "legend": null},
  "strokeWidth": {"field": "s", "type": "nominal", "scale": {"domain": ["m4","m1","m2","m3"], "range": [2, 2.6, 1.8, 2.6]}, "legend": null}
 }},
{"mark": {"type": "point", "opacity": 0},
 "encoding": {
  "x": {"field": "r", "type": "quantitative", "scale": {"domain": [0, 2], "nice": false},
        "axis": {"orient": "top", "values": [0,0.1,0.2,0.3,0.4,0.5,0.6,0.7,0.8,0.9,1,1.1,1.2,1.3,1.4,1.5,1.6,1.7,1.8,1.9,2], "labels": false, "title": null,
                 "tickSize": {"condition": {"test": "abs(datum.value*2 - round(datum.value*2)) < 0.001", "value": -21}, "value": -14}}},
  "y": {"field": "g", "type": "quantitative", "scale": {"domain": [0, 2.5], "nice": false},
        "axis": {"orient": "right", "values": [0,0.25,0.5,0.75,1,1.25,1.5,1.75,2,2.25], "labels": false, "title": null,
                 "tickSize": {"condition": {"test": "abs(datum.value - round(datum.value)) < 0.001", "value": -21}, "value": -14}}}
 }}
],
"resolve": {"axis": {"x": "independent", "y": "independent"}}
},
{
"width": 345, "height": 262,
"data": {"name": "d"},
"transform": [{"filter": "datum.p === 'CCl'"}],
"layer": [
{"mark": {"type": "line", "interpolate": "monotone", "clip": true},
 "encoding": {
  "x": {"field": "r", "type": "quantitative", "scale": {"domain": [0, 2], "nice": false},
        "axis": {"orient": "bottom", "values": [0,0.1,0.2,0.3,0.4,0.5,0.6,0.7,0.8,0.9,1,1.1,1.2,1.3,1.4,1.5,1.6,1.7,1.8,1.9,2], "labels": false, "title": null,
                 "tickSize": {"condition": {"test": "abs(datum.value*2 - round(datum.value*2)) < 0.001", "value": -21}, "value": -14}}},
  "y": {"field": "g", "type": "quantitative", "scale": {"domain": [0, 2.5], "nice": false},
        "axis": {"orient": "left", "values": [0,0.25,0.5,0.75,1,1.25,1.5,1.75,2,2.25], "format": "~g", "labelOverlap": false,
                 "labelFont": "Liberation Serif", "labelFontSize": 28, "titleFont": "Liberation Serif", "titleFontSize": 28,
                 "labelExpr": "abs(datum.value - round(datum.value)) < 0.001 ? datum.label : ''",
                 "labelPadding": 27, "title": "𝑔CCl(𝑟)", "titlePadding": 12,
                 "tickSize": {"condition": {"test": "abs(datum.value - round(datum.value)) < 0.001", "value": -21}, "value": -14}}},
  "color": {"field": "s", "type": "nominal", "scale": {"domain": ["m4","m1","m2","m3"], "range": ["#0000ff","#000000","#ff0000","#00ff00"]}, "legend": null},
  "strokeWidth": {"field": "s", "type": "nominal", "scale": {"domain": ["m4","m1","m2","m3"], "range": [2, 2.6, 1.8, 2.6]}, "legend": null}
 }},
{"mark": {"type": "point", "opacity": 0},
 "encoding": {
  "x": {"field": "r", "type": "quantitative", "scale": {"domain": [0, 2], "nice": false},
        "axis": {"orient": "top", "values": [0,0.1,0.2,0.3,0.4,0.5,0.6,0.7,0.8,0.9,1,1.1,1.2,1.3,1.4,1.5,1.6,1.7,1.8,1.9,2], "labels": false, "title": null,
                 "tickSize": {"condition": {"test": "abs(datum.value*2 - round(datum.value*2)) < 0.001", "value": -21}, "value": -14}}},
  "y": {"field": "g", "type": "quantitative", "scale": {"domain": [0, 2.5], "nice": false},
        "axis": {"orient": "right", "values": [0,0.25,0.5,0.75,1,1.25,1.5,1.75,2,2.25], "labels": false, "title": null,
                 "tickSize": {"condition": {"test": "abs(datum.value - round(datum.value)) < 0.001", "value": -21}, "value": -14}}}
 }}
],
"resolve": {"axis": {"x": "independent", "y": "independent"}}
},
{
"width": 345, "height": 262,
"data": {"name": "d"},
"transform": [{"filter": "datum.p === 'CC'"}],
"layer": [
{"mark": {"type": "line", "interpolate": "monotone", "clip": true},
 "encoding": {
  "x": {"field": "r", "type": "quantitative", "scale": {"domain": [0, 2], "nice": false},
        "axis": {"orient": "bottom", "values": [0,0.1,0.2,0.3,0.4,0.5,0.6,0.7,0.8,0.9,1,1.1,1.2,1.3,1.4,1.5,1.6,1.7,1.8,1.9,2], "format": "~g", "labelOverlap": false, "labelFlush": false,
                 "labelFont": "Liberation Serif", "labelFontSize": 28, "titleFont": "Liberation Serif", "titleFontSize": 28,
                 "labelExpr": "abs(datum.value*2 - round(datum.value*2)) < 0.001 ? datum.label : ''",
                 "labelPadding": 21, "title": "𝑟 (nm)", "titlePadding": -6,
                 "tickSize": {"condition": {"test": "abs(datum.value*2 - round(datum.value*2)) < 0.001", "value": -21}, "value": -14}}},
  "y": {"field": "g", "type": "quantitative", "scale": {"domain": [0, 5], "nice": false},
        "axis": {"orient": "left", "values": [0,0.5,1,1.5,2,2.5,3,3.5,4,4.5], "format": "~g", "labelOverlap": false,
                 "labelFont": "Liberation Serif", "labelFontSize": 28, "titleFont": "Liberation Serif", "titleFontSize": 28,
                 "labelExpr": "abs(datum.value/2 - round(datum.value/2)) < 0.001 ? datum.label : ''",
                 "labelPadding": 27, "title": "𝑔CC(𝑟)", "titlePadding": 12,
                 "tickSize": {"condition": {"test": "abs(datum.value/2 - round(datum.value/2)) < 0.001", "value": -21}, "value": -14}}},
  "color": {"field": "s", "type": "nominal", "scale": {"domain": ["m4","m1","m2","m3"], "range": ["#0000ff","#000000","#ff0000","#00ff00"]}, "legend": null},
  "strokeWidth": {"field": "s", "type": "nominal", "scale": {"domain": ["m4","m1","m2","m3"], "range": [2, 2.6, 1.8, 2.6]}, "legend": null}
 }},
{"mark": {"type": "point", "opacity": 0},
 "encoding": {
  "x": {"field": "r", "type": "quantitative", "scale": {"domain": [0, 2], "nice": false},
        "axis": {"orient": "top", "values": [0,0.1,0.2,0.3,0.4,0.5,0.6,0.7,0.8,0.9,1,1.1,1.2,1.3,1.4,1.5,1.6,1.7,1.8,1.9,2], "labels": false, "title": null,
                 "tickSize": {"condition": {"test": "abs(datum.value*2 - round(datum.value*2)) < 0.001", "value": -21}, "value": -14}}},
  "y": {"field": "g", "type": "quantitative", "scale": {"domain": [0, 5], "nice": false},
        "axis": {"orient": "right", "values": [0,0.5,1,1.5,2,2.5,3,3.5,4,4.5], "labels": false, "title": null,
                 "tickSize": {"condition": {"test": "abs(datum.value/2 - round(datum.value/2)) < 0.001", "value": -21}, "value": -14}}}
 }}
],
"resolve": {"axis": {"x": "independent", "y": "independent"}}
}
],
"config": {
 "view": {"stroke": "black", "strokeWidth": 2},
 "style": {"guide-label": {"font": "Liberation Serif", "fontSize": 28}, "guide-title": {"font": "Liberation Serif", "fontSize": 28}},
 "axis": {"labelFont": "Liberation Serif", "titleFont": "Liberation Serif", "labelFontSize": 28, "titleFontSize": 28, "labelColor": "black", "titleColor": "black", "titleFontWeight": "normal", "tickColor": "black", "tickWidth": 2, "domain": false, "grid": false}
}
}
